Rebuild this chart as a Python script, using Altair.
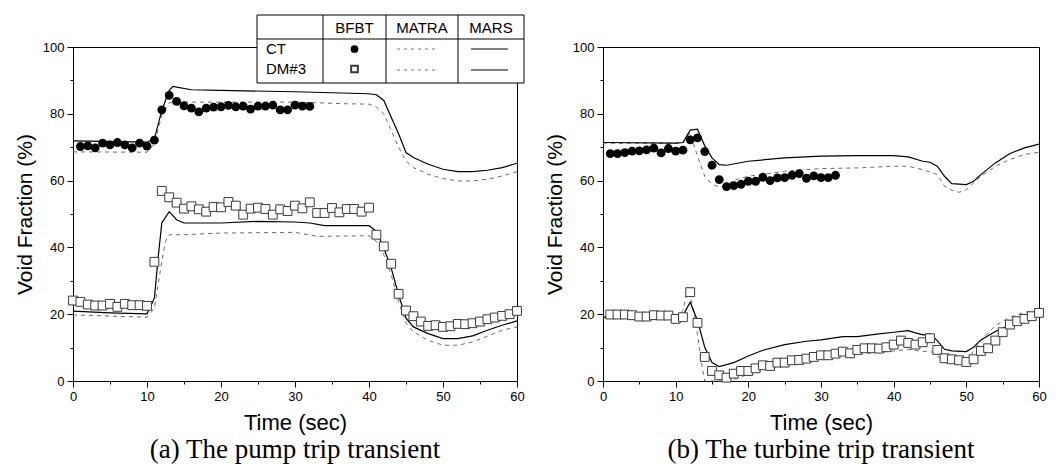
import altair as alt
import pandas as pd

FONT = "Liberation Sans"
SERIF = "Liberation Serif"

# ---------------- (a) pump trip transient ----------------
a_ct_bfbt_t = list(range(1, 33))
a_ct_bfbt_v = [70.2, 70.4, 69.8, 71.2, 70.7, 71.4, 70.7, 69.8, 71.2, 70.3, 72.1, 81.2, 85.5, 83.7, 82.4, 81.7,
               80.6, 81.7, 82.0, 82.1, 82.5, 82.1, 82.3, 81.4, 82.3, 82.3, 82.6, 81.2, 81.2, 82.6, 82.3, 82.2]
a_dm_bfbt_t = list(range(0, 61))
a_dm_bfbt_v = [24.1, 23.7, 22.9, 22.6, 22.6, 23.1, 22.2, 23.1, 22.7, 22.7, 22.5,
               35.7, 56.9, 55.0, 53.4, 51.6, 52.3, 51.4, 50.7, 52.1, 52.0,
               53.6, 52.5, 49.8, 51.6, 51.9, 51.5, 49.8, 51.4, 50.9, 52.5,
               51.7, 53.5, 50.3, 50.3, 51.8, 50.5, 51.5, 51.5, 50.7, 51.9,
               43.8, 40.3, 35.1, 26.1, 21.1, 19.4, 17.8, 16.5, 16.7, 16.2,
               16.4, 17.1, 17.0, 17.3, 17.8, 18.5, 19.0, 19.5, 20.0, 21.0]
a_ct_mars_t = [0, 10, 11, 12, 13, 13.5, 14, 16, 20, 30, 40, 41, 42, 43, 44, 45, 46, 48, 50, 52, 54, 56, 58, 60]
a_ct_mars_v = [71.9, 71.5, 72.5, 81.0, 87.0, 88.2, 88.0, 87.2, 87.0, 86.6, 86.0, 85.7, 84.0, 79.0, 74.0, 68.4,
               66.9, 64.9, 63.4, 62.7, 62.7, 63.1, 63.9, 65.2]
a_ct_matra_t = [0, 10, 11, 12, 13, 15, 20, 30, 37, 40, 41, 42, 43, 44, 45, 46, 48, 50, 52, 54, 56, 58, 60]
a_ct_matra_v = [68.6, 68.5, 71.0, 79.5, 83.3, 83.5, 83.5, 83.5, 83.0, 82.9, 82.0, 80.0, 75.0, 70.0, 65.9, 63.9,
                61.9, 60.6, 59.9, 59.9, 60.4, 61.4, 62.7]
a_dm_mars_t = [0, 5, 10, 11, 11.5, 12, 13, 14, 15, 20, 25, 30, 32, 34, 40, 41, 42, 43, 44, 45, 46, 48, 50, 52,
               54, 56, 58, 60]
a_dm_mars_v = [20.9, 20.4, 20.1, 24.8, 36.8, 47.3, 50.7, 48.3, 47.3, 47.3, 47.8, 47.6, 47.3, 46.5, 46.5, 44.8,
               39.8, 33.8, 25.8, 18.8, 16.2, 14.2, 12.7, 12.7, 13.5, 15.2, 16.7, 18.0]
a_dm_matra_t = [0, 10, 11, 12, 12.5, 13, 15, 20, 30, 33, 40, 41, 42, 43, 44, 45, 46, 48, 50, 52, 54, 56, 58, 60]
a_dm_matra_v = [19.8, 19.1, 21.8, 35.8, 41.8, 43.8, 43.8, 44.3, 44.5, 43.3, 43.5, 41.8, 37.8, 31.8, 23.8, 17.3,
                14.7, 12.2, 10.7, 10.7, 11.7, 13.4, 15.2, 16.2]

# ---------------- (b) turbine trip transient ----------------
b_ct_bfbt_t = list(range(1, 33))
b_ct_bfbt_v = [68.1, 68.1, 68.4, 68.8, 68.9, 69.2, 69.7, 68.3, 69.6, 68.8, 69.1, 72.2, 72.8, 68.7, 64.6, 60.3,
               58.2, 58.5, 58.9, 59.8, 59.8, 61.0, 60.0, 60.8, 60.9, 61.6, 62.1, 60.7, 61.4, 60.9, 60.9, 61.6]
b_dm_bfbt_t = list(range(1, 61))
b_dm_bfbt_v = [19.9, 19.9, 19.9, 19.7, 19.3, 19.3, 19.7, 19.6, 19.6, 18.6,
               19.1, 26.6, 17.4, 7.2, 3.0, 1.7, 1.0, 2.2, 3.0, 3.0,
               3.8, 4.7, 4.5, 5.5, 5.5, 6.2, 6.3, 6.7, 7.2, 7.7,
               7.7, 8.2, 8.8, 8.3, 9.3, 9.8, 9.8, 9.7, 10.1, 10.9,
               12.1, 11.4, 10.9, 11.6, 12.8, 9.3, 6.8, 6.5, 6.2, 5.7,
               6.5, 9.0, 9.8, 12.1, 14.6, 16.9, 17.9, 18.6, 19.4, 20.4]
b_ct_mars_t = [0, 10, 11, 12, 13, 14, 15, 16, 17, 20, 25, 30, 35, 40, 42, 44, 45, 46, 47, 48, 50, 51, 52, 54,
               56, 58, 60]
b_ct_mars_v = [71.4, 71.2, 71.4, 75.1, 75.4, 70.4, 66.8, 64.8, 64.6, 65.8, 66.8, 67.3, 67.5, 67.5, 67.1, 65.8,
               65.5, 64.3, 61.3, 59.1, 58.8, 59.8, 61.8, 65.3, 68.1, 69.8, 70.9]
b_ct_matra_t = [0, 11, 12, 13, 14, 15, 16, 17, 18, 20, 25, 30, 35, 40, 42, 44, 46, 47, 48, 49, 50, 52, 54, 56,
                58, 60]
b_ct_matra_v = [71.2, 71.2, 74.4, 67.3, 61.3, 58.8, 58.1, 58.3, 60.1, 61.3, 62.8, 63.6, 63.8, 64.3, 64.3, 63.3,
                61.8, 58.3, 57.1, 56.5, 57.3, 61.3, 64.3, 66.3, 67.8, 68.5]
b_dm_mars_t = [0, 10, 11, 12, 13, 14, 15, 16, 18, 20, 22, 25, 28, 30, 33, 35, 38, 40, 42, 43, 44, 45, 46, 47,
               48, 50, 51, 52, 54, 56, 58, 60]
b_dm_mars_v = [19.1, 19.1, 19.6, 23.6, 18.1, 10.1, 5.5, 4.3, 5.5, 7.5, 9.2, 10.9, 11.9, 12.3, 13.3, 13.3, 14.1,
               14.6, 15.1, 14.4, 13.8, 14.1, 12.1, 9.5, 9.0, 8.8, 10.1, 12.3, 14.8, 16.8, 18.6, 19.6]
b_dm_matra_t = [0, 10, 11, 11.7, 12, 13, 13.5, 14, 17, 18, 20, 25, 30, 35, 40, 42, 44, 45, 46, 47, 49, 50, 51,
                52, 54, 56, 58, 60]
b_dm_matra_v = [18.9, 18.9, 21.1, 28.1, 26.1, 14.1, 6.0, 0.0, 0.0, 0.5, 2.0, 5.0, 7.0, 8.0, 9.0, 9.5, 8.8, 9.0,
                7.5, 5.5, 5.2, 6.0, 9.0, 12.1, 16.6, 19.1, 20.6, 21.1]

captions = ["(a) The pump trip transient", "(b) The turbine trip transient"]
legend_cols = ["BFBT", "MATRA", "MARS"]
legend_rows = ["CT", "DM#3"]


def df(t, v):
    return pd.DataFrame({"t": t, "v": v})


x_axis = alt.Axis(values=list(range(0, 61, 5)),
                  labelExpr="datum.value % 10 == 0 ? datum.label : ''",
                  tickSize={"condition": {"test": "datum.value % 10 == 0", "value": 6}, "value": 3},
                  title="Time (sec)", titleFont=FONT, titleFontSize=22, titleFontWeight="normal",
                  titlePadding=9, labelFont=FONT, labelFontSize=13, labelPadding=3,
                  grid=False, domainColor="black", tickColor="black", labelColor="black",
                  titleColor="black", labelFlush=False)
y_axis = alt.Axis(values=list(range(0, 101, 10)),
                  labelExpr="datum.value % 20 == 0 ? datum.label : ''",
                  tickSize={"condition": {"test": "datum.value % 20 == 0", "value": 6}, "value": 3},
                  title="Void Fraction (%)", titleFont=FONT, titleFontSize=21, titleFontWeight="normal",
                  titlePadding=7, labelFont=FONT, labelFontSize=13, labelPadding=3,
                  grid=False, domainColor="black", tickColor="black", labelColor="black",
                  titleColor="black", labelFlush=False)
X = alt.X("t:Q", scale=alt.Scale(domain=[0, 60], nice=False), axis=x_axis)
Y = alt.Y("v:Q", scale=alt.Scale(domain=[0, 100], nice=False), axis=y_axis)


def matra(t, v):
    return alt.Chart(df(t, v)).mark_line(color="#6a6a6a", strokeWidth=1, strokeDash=[4, 4]).encode(x=X, y=Y)


def mars(t, v):
    return alt.Chart(df(t, v)).mark_line(color="black", strokeWidth=1.2).encode(x=X, y=Y)


def circles(t, v):
    return alt.Chart(df(t, v)).mark_point(shape="circle", filled=True, color="black", size=78,
                                         opacity=1).encode(x=X, y=Y)


def squares(t, v):
    return alt.Chart(df(t, v)).mark_point(shape="square", filled=False, fill="white", fillOpacity=1,
                                         stroke="#3a3a3a", strokeWidth=1, size=78, opacity=1).encode(x=X, y=Y)


one = pd.DataFrame({"k": [0]})


def rule(x1, y1, x2, y2, color="black", dash=None):
    kw = {"strokeDash": dash} if dash else {}
    return alt.Chart(one).mark_rule(color=color, strokeWidth=1, **kw).encode(
        x=alt.value(x1), y=alt.value(y1), x2=alt.value(x2), y2=alt.value(y2))


def label(txt, x, y, align="center"):
    return alt.Chart(one).mark_text(font=FONT, fontSize=15, color="black", align=align,
                                    baseline="middle").encode(
        x=alt.value(x), y=alt.value(y), text=alt.value(txt))


# legend table (pixel positions relative to left plot area)
L, R, T, B = 184, 451, -32, 36
C1, C2, C3 = 250, 313, 385
H = -8
table = [
    alt.Chart(one).mark_rect(fill="white", stroke="black", strokeWidth=1).encode(
        x=alt.value(L), x2=alt.value(R), y=alt.value(T), y2=alt.value(B)),
    rule(L, H, R, H), rule(C1, T, C1, B), rule(C2, T, C2, B), rule(C3, T, C3, B),
    label(legend_cols[0], (C1 + C2) / 2, (T + H) / 2 + 1),
    label(legend_cols[1], (C2 + C3) / 2, (T + H) / 2 + 1),
    label(legend_cols[2], (C3 + R) / 2, (T + H) / 2 + 1),
    label(legend_rows[0], L + 9, 2, align="left"),
    label(legend_rows[1], L + 9, 22, align="left"),
    alt.Chart(one).mark_point(shape="circle", filled=True, color="black", size=60, opacity=1).encode(
        x=alt.value((C1 + C2) / 2), y=alt.value(2)),
    alt.Chart(one).mark_point(shape="square", filled=False, stroke="#3a3a3a", size=45, opacity=1).encode(
        x=alt.value((C1 + C2) / 2), y=alt.value(22)),
    rule(C2 + 11, 2, C3 - 20, 2, color="#777777", dash=[3, 4]),
    rule(C2 + 11, 23, C3 - 20, 23, color="#777777", dash=[3, 4]),
    rule(C3 + 13, 2, R - 16, 2),
    rule(C3 + 13, 23, R - 16, 23),
]


def caption(txt):
    return alt.TitleParams(txt, orient="bottom", font=SERIF, fontSize=27, fontWeight="normal",
                           color="black", anchor="middle", offset=4)


left = alt.layer(
    matra(a_ct_matra_t, a_ct_matra_v), mars(a_ct_mars_t, a_ct_mars_v),
    matra(a_dm_matra_t, a_dm_matra_v), mars(a_dm_mars_t, a_dm_mars_v),
    squares(a_dm_bfbt_t, a_dm_bfbt_v), circles(a_ct_bfbt_t, a_ct_bfbt_v),
    *table
).properties(width=444, height=334, title=caption(captions[0]))

right = alt.layer(
    matra(b_ct_matra_t, b_ct_matra_v), mars(b_ct_mars_t, b_ct_mars_v),
    matra(b_dm_matra_t, b_dm_matra_v), mars(b_dm_mars_t, b_dm_mars_v),
    squares(b_dm_bfbt_t, b_dm_bfbt_v), circles(b_ct_bfbt_t, b_ct_bfbt_v),
).properties(width=436, height=334, title=caption(captions[1]))

chart = alt.hconcat(left, right, spacing=18).configure_view(
    stroke="black", strokeWidth=1
).properties(
    padding={"left": 13, "top": 14, "right": 0, "bottom": 0},
    background="white"
)

chart.save("out.html", embed_options={"renderer": "svg", "actions": False})
